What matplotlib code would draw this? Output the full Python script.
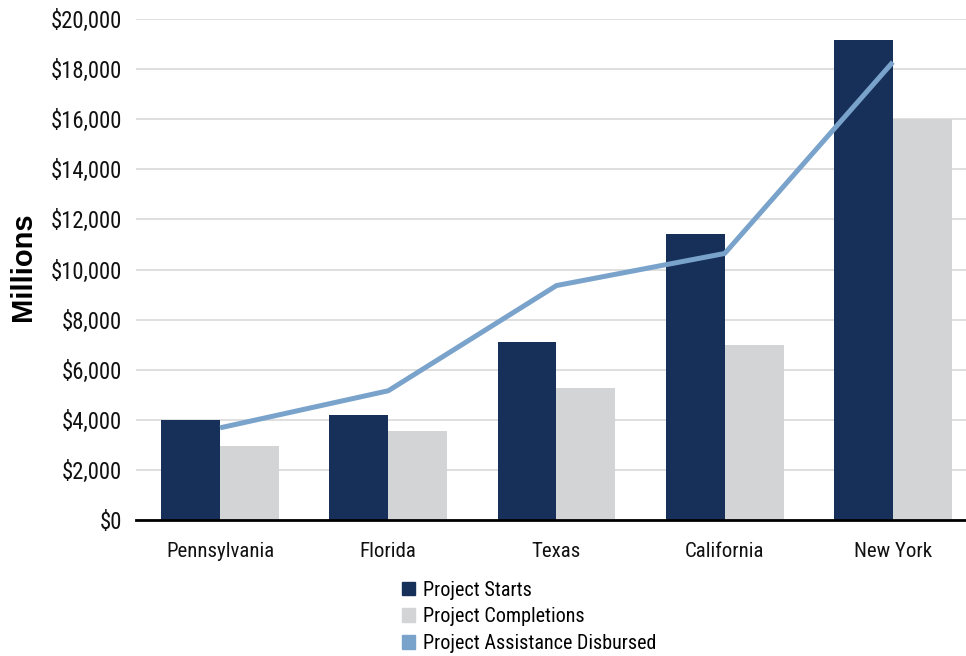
import matplotlib
matplotlib.use("Agg")
import matplotlib.pyplot as plt
import numpy as np
from matplotlib.patches import Patch
from matplotlib.ticker import FuncFormatter

states = ["Pennsylvania", "Florida", "Texas", "California", "New York"]
project_starts = [4000, 4200, 7120, 11400, 19160]
project_completions = [2960, 3560, 5280, 7000, 16000]
assistance_disbursed = [3680, 5160, 9360, 10640, 18280]

navy = "#17305a"
grey = "#d3d4d6"
steel = "#7aa3cb"

plt.rcParams['font.family'] = ['Roboto Condensed', 'DejaVu Sans']

fig = plt.figure(figsize=(9.66, 6.56), dpi=100)
ax = fig.add_axes([0.1408, 0.2073, 0.8592, 0.7637])

x = np.arange(len(states))
w = 0.35
ax.bar(x - w / 2, project_starts, w, color=navy, zorder=2)
ax.bar(x + w / 2, project_completions, w, color=grey, zorder=2)
ax.plot(x, assistance_disbursed, color=steel, lw=3.6, zorder=3, solid_capstyle='butt')

ax.set_ylim(0, 20000)
ax.set_yticks(np.arange(0, 20001, 2000))
ax.yaxis.set_major_formatter(FuncFormatter(lambda v, p: "${:,.0f}".format(v)))
ax.set_xlim(-0.5, 4.435)
ax.set_xticks(x)
ax.set_xticklabels(states)

ax.grid(axis='y', color='#d9d9d9', lw=1.2, zorder=0)
ax.set_axisbelow(True)
for side in ['top', 'right', 'left']:
    ax.spines[side].set_visible(False)
ax.spines['bottom'].set_linewidth(2)
ax.spines['bottom'].set_color('black')
ax.tick_params(axis='y', length=0, labelsize=16.4, colors='#111111', pad=10)
ax.tick_params(axis='x', length=0, labelsize=15, colors='#111111', pad=16)

fig.text(0.024, 0.593, "Millions", rotation=90, ha='center', va='center',
         fontsize=21, fontweight='bold', family=['Liberation Sans', 'DejaVu Sans'])

handles = [Patch(color=navy), Patch(color=grey), Patch(color=steel)]
labels = ["Project Starts", "Project Completions", "Project Assistance Disbursed"]
fig.legend(handles, labels, loc='upper left', bbox_to_anchor=(0.416, 0.115),
           frameon=False, fontsize=14.5, handlelength=0.65, handleheight=0.65,
           handletextpad=0.4, labelspacing=0.38, borderaxespad=0, borderpad=0)

fig.savefig("out.png", dpi=100)
